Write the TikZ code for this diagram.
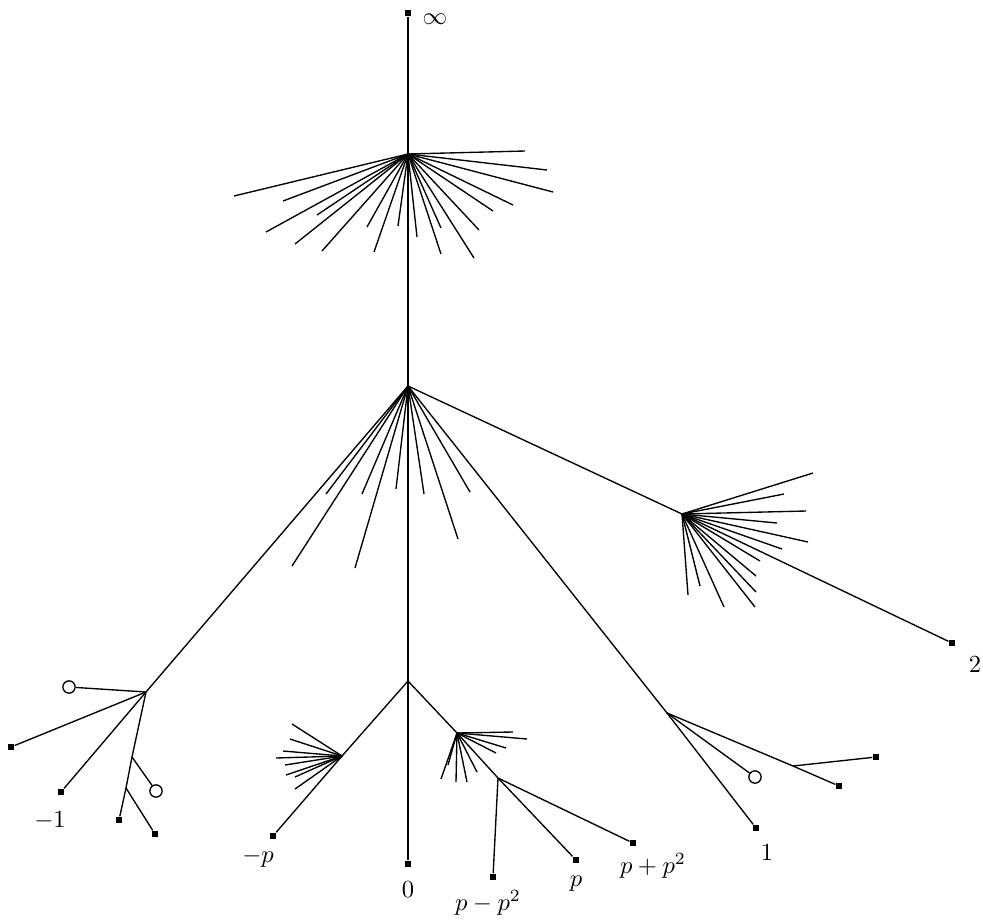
\documentclass[tikz,border=0pt]{standalone}
\usepackage{amsmath}
\usetikzlibrary{calc}

\begin{document}
\begin{tikzpicture}[x=0.0143cm, y=-0.0143cm, line width=0.55pt,
    leaf/.style={fill=black, inner sep=0pt, minimum size=2.4pt},
    hole/.style={draw, circle, fill=white, inner sep=0pt, minimum size=5pt}]

    \useasboundingbox (0,0) rectangle (983,922);

    % vertices
    \coordinate (A) at (408,154);
    \coordinate (B) at (408,386);
    \coordinate (C) at (408,681);
    \coordinate (D) at (342,756);
    \coordinate (E) at (457,733);
    \coordinate (E2) at (498,778);
    \coordinate (F) at (146,692);
    \coordinate (F1) at (132,757);
    \coordinate (F2) at (126,788);
    \coordinate (G) at (682,514);
    \coordinate (H) at (667,713);
    \coordinate (H1) at (793,766);

    % ends
    \node[leaf] (inf) at (408,13) {};
    \node[leaf] (zero) at (408,864) {};
    \node[leaf] (two) at (952,643) {};
    \node[leaf] (one) at (756,828) {};
    \node[leaf] (mp) at (273,836) {};
    \node[leaf] (pmp) at (493,877) {};
    \node[leaf] (pp) at (576,860) {};
    \node[leaf] (ppp) at (633,843) {};
    \node[leaf] (fa) at (11,747) {};
    \node[leaf] (mone) at (61,792) {};
    \node[leaf] (fb) at (119,820) {};
    \node[leaf] (fc) at (155,834) {};
    \node[leaf] (ha) at (839,786) {};
    \node[leaf] (hb) at (876,757) {};
    \node[hole] (fo1) at (69,687) {};
    \node[hole] (fo2) at (156,791) {};
    \node[hole] (ho) at (755,777) {};

    % labels
    \node (linf) at (435,19) {$\infty$};
    \node (lzero) at (408,890) {$0$};
    \node (ltwo) at (975,665) {$2$};
    \node (lone) at (767,853) {$1$};
    \node (lmone) at (50,821) {$-1$};
    \node (lmp) at (258,858) {$-p$};
    \node (lpmp) at (488,903) {$p-p^2$};
    \node (lpp) at (576,884) {$p$};
    \node (lppp) at (653,866) {$p+p^2$};

    % main tree
    \draw (inf) -- (A) -- (B) -- (C) -- (zero);
    \draw (B) -- (F);
    \draw (B) -- (G) -- (two);
    \draw (B) -- (H) -- (one);
    \draw (C) -- (D) -- (mp);
    \draw (C) -- (E) -- (E2);
    \draw (E2) -- (pmp);
    \draw (E2) -- (pp);
    \draw (E2) -- (ppp);
    \draw (F) -- (fo1);
    \draw (F) -- (fa);
    \draw (F) -- (mone);
    \draw (F) -- (F1) -- (F2) -- (fb);
    \draw (F1) -- (fo2);
    \draw (F2) -- (fc);
    \draw (H) -- (ho);
    \draw (H) -- (H1) -- (ha);
    \draw (H1) -- (hb);

    % fans
    \foreach \x/\y in {525/151, 547/170, 553/192, 513/205, 493/211, 479/230,
        474/258, 441/228, 441/254, 417/237, 398/226, 374/252, 367/227,
        322/251, 295/244, 266/232, 317/215, 283/201, 234/196}
        \draw (A) -- (\x,\y);
    \foreach \x/\y in {326/494, 292/566, 362/494, 355/568, 396/489,
        424/494, 458/539, 470/492}
        \draw (B) -- (\x,\y);
    \foreach \x/\y in {813/473, 784/494, 806/511, 777/523, 808/542, 782/549,
        760/561, 756/576, 756/592, 755/607, 724/607, 700/586, 688/595}
        \draw (G) -- (\x,\y);
    \foreach \x/\y in {292/724, 290/739, 283/751, 276/758, 285/765,
        286/775, 295/777, 295/789}
        \draw (D) -- (\x,\y);
    \foreach \x/\y in {513/732, 527/739, 506/748, 496/753, 477/772,
        467/782, 456/782, 448/765, 441/779}
        \draw (E) -- (\x,\y);

\end{tikzpicture}
\end{document}
